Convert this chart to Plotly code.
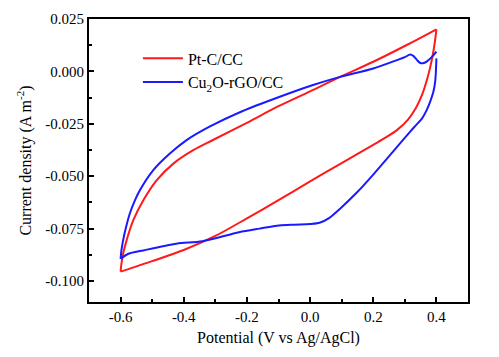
import plotly.graph_objects as go

# Pt-C/CC (red)
pt_x_anodic = [-0.6, -0.597, -0.592, -0.581, -0.560, -0.528, -0.486, -0.433, -0.370, -0.306, -0.2, -0.1,
               0.0, 0.095, 0.2, 0.306, 0.4]
pt_y_anodic = [-0.0955, -0.0915, -0.0870, -0.0806, -0.0711, -0.0615, -0.0520, -0.0440, -0.0376, -0.0326,
               -0.0245, -0.0166, -0.0095, -0.0026, 0.0046, 0.0126, 0.0201]
pt_x_cathodic = [0.4, 0.395, 0.388, 0.38, 0.37, 0.355, 0.335, 0.31, 0.275, 0.24, 0.2, 0.1, 0.0, -0.1,
                 -0.2, -0.3, -0.4, -0.5, -0.6]
pt_y_cathodic = [0.0201, 0.0140, 0.0075, 0.0018, -0.0040, -0.0110, -0.0175, -0.0230, -0.0280, -0.0315,
                 -0.0350, -0.0437, -0.0525, -0.0614, -0.0701, -0.0785, -0.0852, -0.0905, -0.0955]

# Cu2O-rGO/CC (blue)
cu_x_cathodic = [0.4, 0.398, 0.396, 0.390, 0.380, 0.368, 0.354, 0.33, 0.317, 0.264, 0.2, 0.148, 0.095,
                 0.06, 0.03, 0.0, -0.05, -0.098, -0.16, -0.225, -0.341, -0.423, -0.528, -0.575, -0.6]
cu_y_cathodic = [0.0062, -0.0010, -0.0050, -0.0100, -0.0145, -0.0188, -0.0225, -0.0265, -0.0287, -0.0380,
                 -0.0492, -0.0578, -0.0655, -0.0700, -0.0722, -0.0728, -0.0731, -0.0735, -0.0750, -0.0767,
                 -0.0810, -0.0822, -0.0854, -0.0870, -0.0894]
cu_x_anodic = [-0.6, -0.597, -0.592, -0.583, -0.571, -0.556, -0.539, -0.497, -0.444, -0.391, -0.32, -0.215,
               -0.098, 0.007, 0.095, 0.2, 0.275, 0.3, 0.317, 0.327, 0.338, 0.349, 0.36, 0.37, 0.385, 0.4]
cu_y_anodic = [-0.0894, -0.0850, -0.0806, -0.0745, -0.0679, -0.0620, -0.0567, -0.0472, -0.0392, -0.0328,
               -0.0265, -0.0190, -0.0122, -0.0066, -0.0026, 0.0014, 0.0054, 0.0068, 0.0081, 0.0074, 0.0055,
               0.0040, 0.0040, 0.0048, 0.0068, 0.0094]

x_tickvals = [-0.6, -0.4, -0.2, 0.0, 0.2, 0.4]
x_ticklabels = ["-0.6", "-0.4", "-0.2", "0.0", "0.2", "0.4"]
y_tickvals = [0.025, 0.0, -0.025, -0.05, -0.075, -0.1]
y_ticklabels = ["0.025", "0.000", "-0.025", "-0.050", "-0.075", "-0.100"]

series_names = ["Pt-C/CC", "Cu<sub>2</sub>O-rGO/CC"]
series_colors = ["#ff1a1a", "#1a1aff"]

FONT = "Liberation Serif, Times New Roman, serif"

fig = go.Figure()
branches = [
    (pt_x_anodic, pt_y_anodic, 0, True, 1.0),
    (pt_x_cathodic, pt_y_cathodic, 0, False, 0.8),
    (cu_x_cathodic, cu_y_cathodic, 1, True, 0.8),
    (cu_x_anodic, cu_y_anodic, 1, False, 0.8),
]
for bx, by, idx, show, sm in branches:
    fig.add_trace(go.Scatter(x=bx, y=by, mode="lines", name=series_names[idx],
                             legendgroup=series_names[idx], showlegend=show,
                             line=dict(color=series_colors[idx], width=2, shape="spline", smoothing=sm)))

axis_common = dict(showline=True, linecolor="black", linewidth=2, mirror=True, ticks="inside",
                   ticklen=5, tickwidth=1.5, tickcolor="black", showgrid=False, zeroline=False,
                   automargin=False,
                   tickfont=dict(family=FONT, size=15, color="black"))

fig.update_xaxes(range=[-0.7, 0.5], tickvals=x_tickvals, ticktext=x_ticklabels,
                 minor=dict(dtick=0.1, tick0=-0.7, ticks="inside", ticklen=3, tickcolor="black", tickwidth=1.5),
                 title=dict(text="Potential (V vs Ag/AgCl)", font=dict(family=FONT, size=16, color="black"),
                            standoff=8),
                 **axis_common)
fig.update_yaxes(range=[-0.110, 0.025], tickvals=y_tickvals, ticktext=y_ticklabels,
                 minor=dict(dtick=0.0125, tick0=0.0, ticks="inside", ticklen=3, tickcolor="black", tickwidth=1.5),
                 title=dict(text="Current density (A m<sup>-2</sup>)", font=dict(family=FONT, size=16, color="black"),
                            standoff=10),
                 **axis_common)

# page body adds an 8px offset, so the figure is sized to fill the rest of the window
fig.update_layout(
    width=491, height=349,
    margin=dict(l=81, r=31, t=11, b=55),
    paper_bgcolor="white", plot_bgcolor="white",
    showlegend=True,
    legend=dict(x=0.129, y=0.921, xanchor="left", yanchor="top", bgcolor="rgba(0,0,0,0)",
                font=dict(family=FONT, size=16, color="black"), tracegroupgap=0, itemwidth=40),
)

fig.write_html("out.html")
